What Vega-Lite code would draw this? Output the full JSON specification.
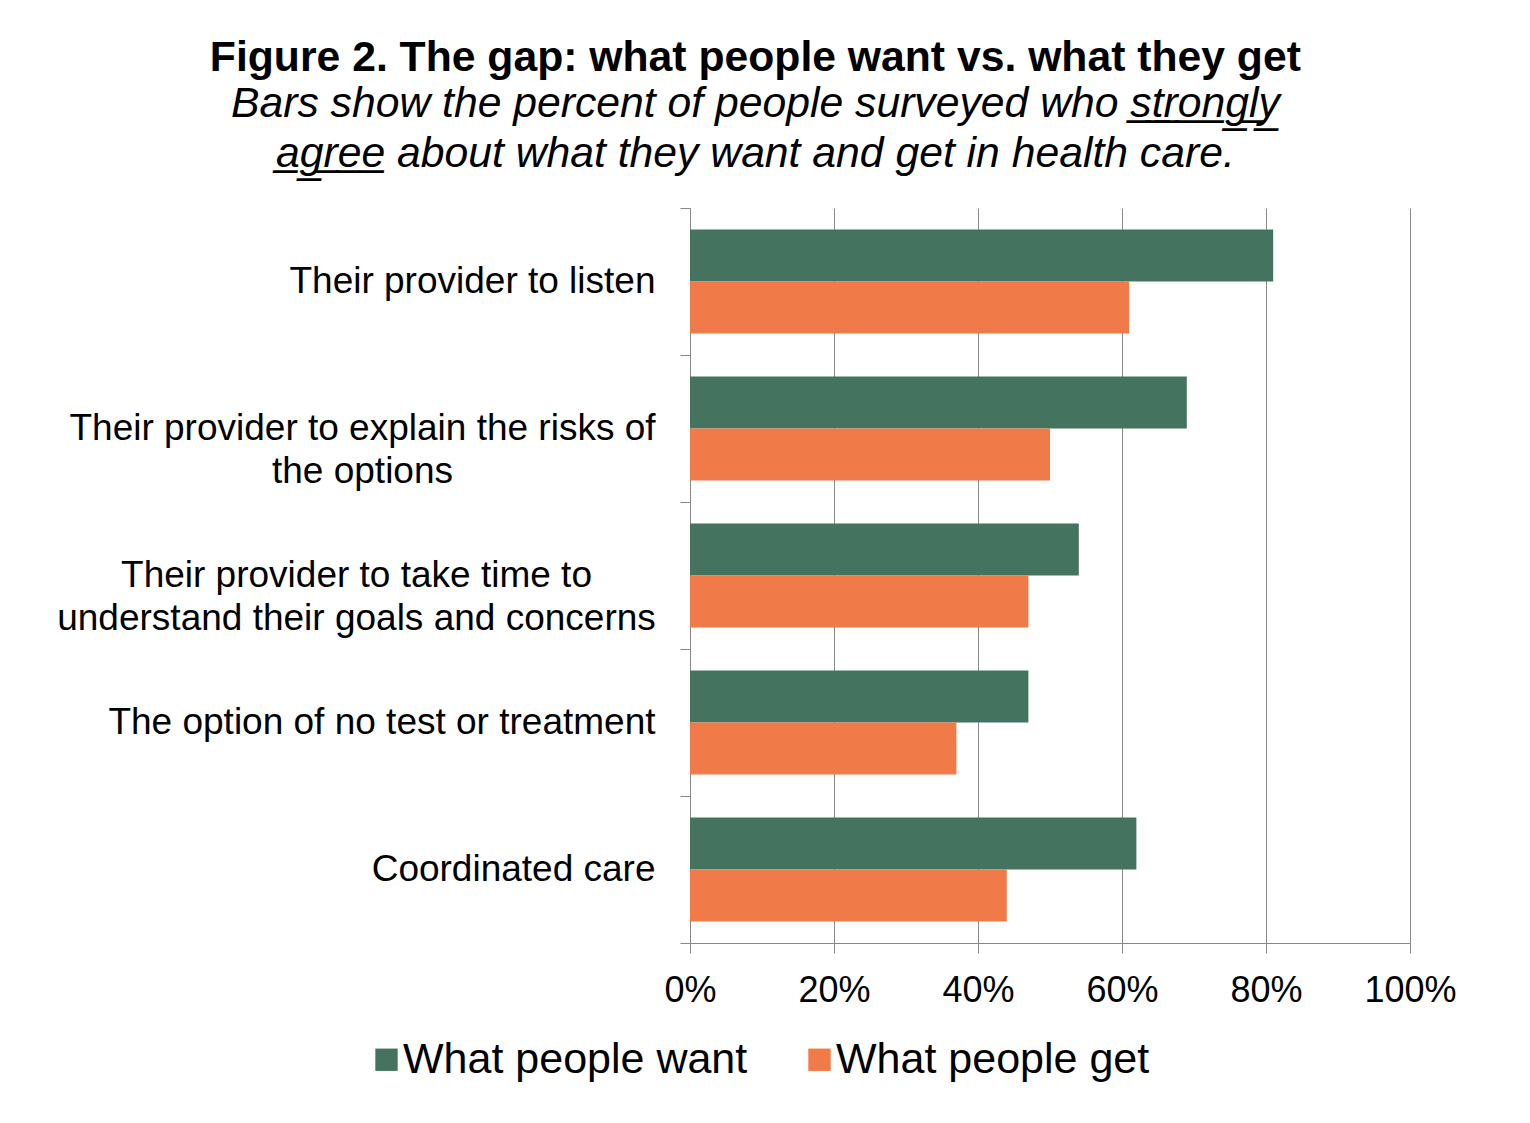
{
  "$schema": "https://vega.github.io/schema/vega-lite/v6.json",
  "autosize": "none",
  "width": 720,
  "height": 735,
  "padding": {"left": 690, "top": 208, "right": 120, "bottom": 180},
  "background": "white",
  "title": {
    "text": "Figure 2. The gap: what people want vs. what they get",
    "subtitle": ["Bars show the percent of people surveyed who s̲t̲r̲o̲n̲g̲l̲y̲", "a̲g̲r̲e̲e̲ about what they want and get in health care."],
    "anchor": "middle",
    "frame": "bounds",
    "dx": -1,
    "font": "Liberation Sans",
    "fontSize": 42.7,
    "fontWeight": "bold",
    "color": "black",
    "subtitleFont": "Liberation Sans",
    "subtitleFontSize": 42.7,
    "subtitleFontStyle": "italic",
    "subtitleColor": "black",
    "subtitleLineHeight": 50,
    "subtitlePadding": 4,
    "offset": 13
  },
  "data": {
    "values": [
      {"item": "listen", "series": "What people want", "pct": 0.81},
      {"item": "listen", "series": "What people get", "pct": 0.61},
      {"item": "risks", "series": "What people want", "pct": 0.69},
      {"item": "risks", "series": "What people get", "pct": 0.50},
      {"item": "time", "series": "What people want", "pct": 0.54},
      {"item": "time", "series": "What people get", "pct": 0.47},
      {"item": "notest", "series": "What people want", "pct": 0.47},
      {"item": "notest", "series": "What people get", "pct": 0.37},
      {"item": "coord", "series": "What people want", "pct": 0.62},
      {"item": "coord", "series": "What people get", "pct": 0.44}
    ]
  },
  "mark": {"type": "bar"},
  "encoding": {
    "y": {
      "field": "item",
      "type": "nominal",
      "sort": ["listen", "risks", "time", "notest", "coord"],
      "scale": {"paddingInner": 0, "paddingOuter": 0},
      "axis": {
        "title": null,
        "labelExpr": "datum.value == 'listen' ? 'Their provider to listen' : datum.value == 'risks' ? ['Their provider to explain the risks of', 'the options'] : datum.value == 'time' ? ['Their provider to take time to', 'understand their goals and concerns'] : datum.value == 'notest' ? 'The option of no test or treatment' : datum.value == 'coord' ? 'Coordinated care' : ''",
        "labelFont": "Liberation Sans",
        "labelFontSize": 37,
        "labelColor": "black",
        "labelLineHeight": 43,
        "labelLimit": 0,
        "labelBaseline": "middle",
        "labelAlign": {"condition": {"test": "datum.value == 'risks' || datum.value == 'time'", "value": "center"}, "value": "right"},
        "labelPadding": {"condition": [{"test": "datum.value == 'risks'", "value": 318}, {"test": "datum.value == 'time'", "value": 324}], "value": 25},
        "tickBand": "extent",
        "tickSize": 10,
        "tickColor": "#888888",
        "domainColor": "#888888",
        "grid": false
      }
    },
    "yOffset": {
      "field": "series",
      "type": "nominal",
      "sort": ["What people want", "What people get"],
      "scale": {"paddingInner": 0, "paddingOuter": 0.413}
    },
    "x": {
      "field": "pct",
      "type": "quantitative",
      "scale": {"domain": [0, 1]},
      "axis": {
        "title": null,
        "format": ".0%",
        "values": [0, 0.2, 0.4, 0.6, 0.8, 1],
        "labelFont": "Liberation Sans",
        "labelFontSize": 36,
        "labelColor": "black",
        "labelPadding": 20,
        "labelFlush": false,
        "tickSize": 10,
        "tickColor": "#888888",
        "domainColor": "#888888",
        "grid": true,
        "gridColor": "#888888",
        "gridWidth": 1
      }
    },
    "color": {
      "field": "series",
      "type": "nominal",
      "sort": ["What people want", "What people get"],
      "scale": {"domain": ["What people want", "What people get"], "range": ["#44735F", "#F07A48"]},
      "legend": {
        "title": null,
        "orient": "none",
        "direction": "horizontal",
        "legendX": -325,
        "legendY": 830,
        "symbolType": "square",
        "symbolSize": 500,
        "symbolStrokeWidth": 0,
        "symbolOpacity": 1,
        "labelFont": "Liberation Sans",
        "labelFontSize": 43,
        "labelColor": "black",
        "labelOffset": -5,
        "labelLimit": 0,
        "columnPadding": 50
      }
    }
  },
  "config": {"view": {"stroke": null}}
}
